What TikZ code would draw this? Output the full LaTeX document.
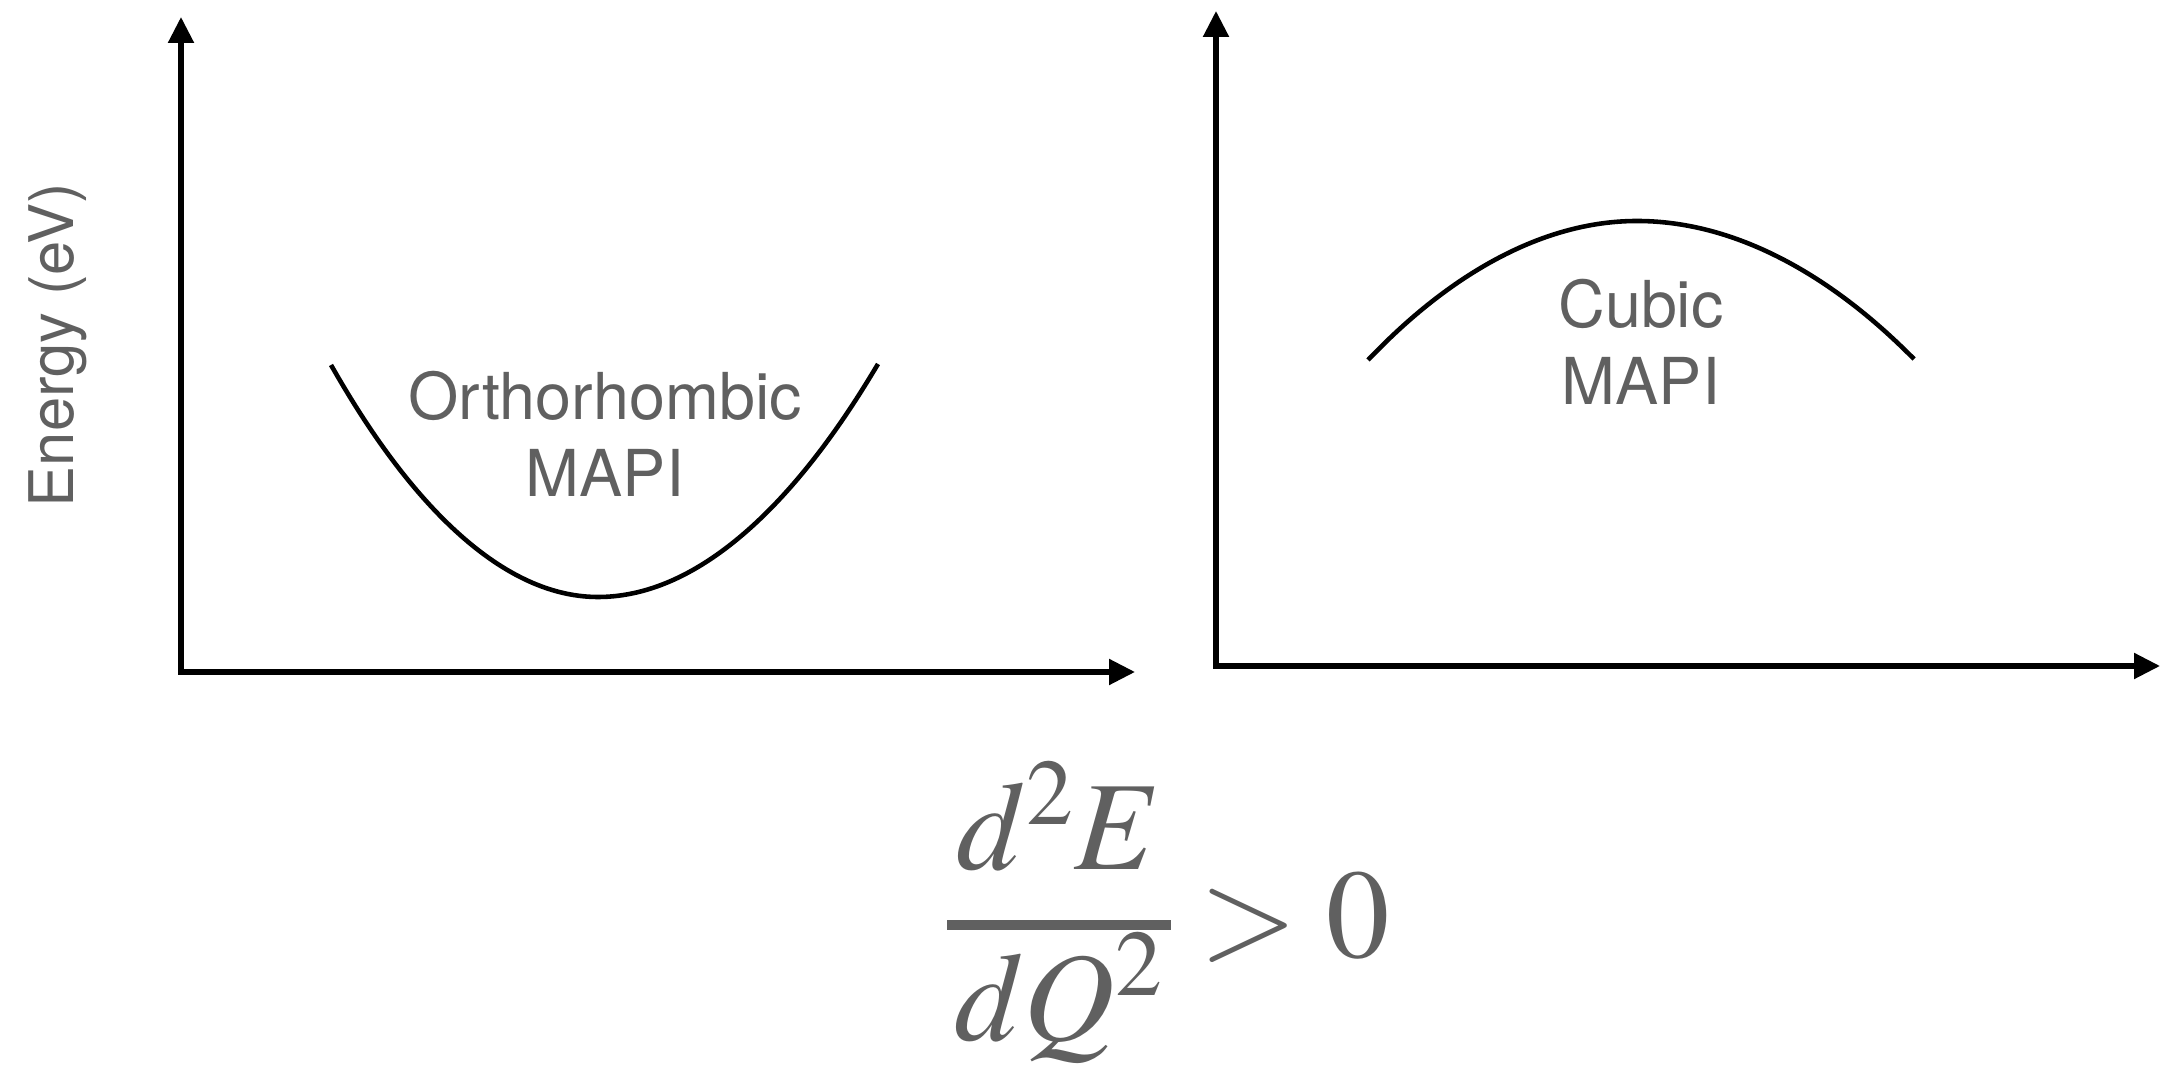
\documentclass[tikz,border=0pt]{standalone}
\usepackage{amsmath}
\usepackage{mathptmx}
\usepackage{fontspec}
\setsansfont{TeX Gyre Heros}
\usepackage{tikz}
\usetikzlibrary{arrows.meta}
\definecolor{LabelGray}{HTML}{606060}
\definecolor{Ink}{HTML}{000000}

\begin{document}
\begin{tikzpicture}[x=1cm,y=1cm,
    axisline/.style={line width=1.5pt,Ink,line join=miter,
      {Triangle[length=0.26cm,width=0.25cm]}-{Triangle[length=0.26cm,width=0.25cm]}},
    curveline/.style={line width=1.3pt,Ink},
    phase/.style={font=\sffamily\fontsize{18.4}{22}\selectfont,text=LabelGray,align=center,inner sep=0pt},
    eqtext/.style={font=\fontsize{36}{40}\selectfont,text=LabelGray,inner sep=0pt}]
  \useasboundingbox (0,0) rectangle (21.62,10.71);
  % orthorhombic panel
  \coordinate (topA) at (1.81,10.54);
  \coordinate (origA) at (1.81,3.99);
  \coordinate (endA) at (11.35,3.99);
  \draw[axisline] (topA) -- (origA) -- (endA);
  \draw[curveline] (3.31,7.06) parabola bend (5.98,4.74) (8.78,7.07);
  \node[phase] (ortho) at (6.05,6.37) {Orthorhombic\\MAPI};
  \node[rotate=90,font=\sffamily\fontsize{17.5}{21}\selectfont,text=LabelGray,inner sep=0pt] (ylabel) at (0.58,7.26)
    {Energy (eV)};
  % cubic panel
  \coordinate (topB) at (12.16,10.60);
  \coordinate (origB) at (12.16,4.05);
  \coordinate (endB) at (21.60,4.05);
  \draw[axisline] (topB) -- (origB) -- (endB);
  \draw[curveline] (13.68,7.11) parabola bend (16.37,8.50) (19.14,7.12);
  \node[phase] (cubic) at (16.41,7.29) {Cubic\\MAPI};
  % curvature condition
  \node[eqtext,anchor=base] (num) at (10.59,2.01) {$d^2E$};
  \node[eqtext,anchor=base] (den) at (10.59,0.30) {$dQ^2$};
  \coordinate (barL) at (9.47,1.46);
  \coordinate (barR) at (11.71,1.46);
  \draw[LabelGray,line width=2.6pt] (barL) -- (barR);
  \node[eqtext,anchor=base west] (rel) at (11.99,1.13) {$>0$};
\end{tikzpicture}
\end{document}
